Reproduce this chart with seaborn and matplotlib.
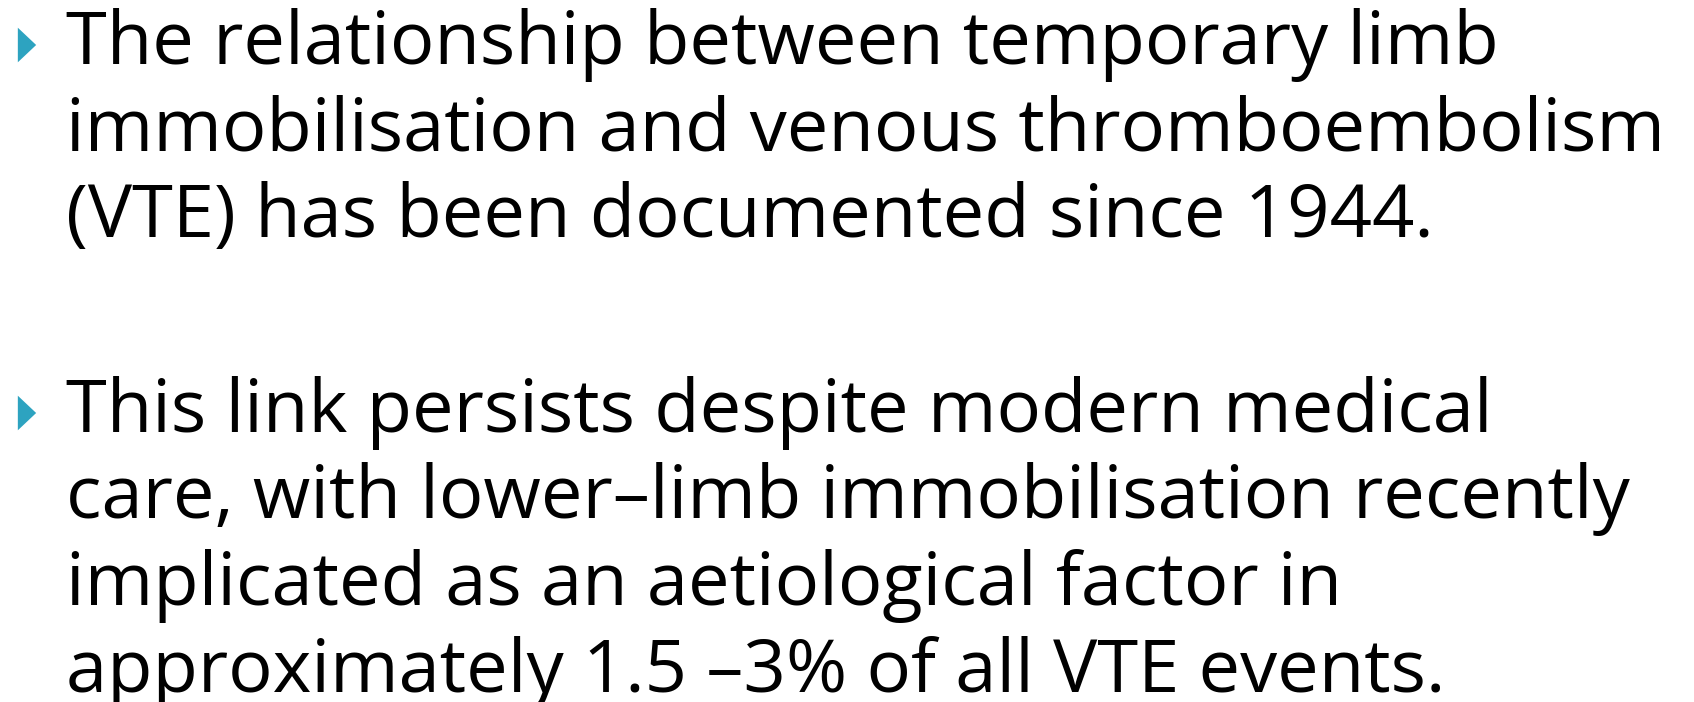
import matplotlib
matplotlib.use("Agg")
import matplotlib.pyplot as plt
import seaborn as sns
import pandas as pd

# slide text, one list per bullet, already wrapped as in the slide
bullet_1 = [
    "The relationship between temporary limb",
    "immobilisation and venous thromboembolism",
    "(VTE) has been documented since 1944.",
]
bullet_2 = [
    "This link persists despite modern medical",
    "care, with lower\u2013limb immobilisation recently",
    "implicated as an aetiological factor in",
    "approximately 1.5 \u20133% of all VTE events.",
]
bullets = [bullet_1, bullet_2]

W, H = 1694, 702
first_baselines = [64, 432]   # baseline of first line of each bullet (px from top)
line_step = 86.5
text_x = 66
bullet_color = "#2DA3C0"

sns.set_theme(style="white")
plt.rcParams["font.family"] = ["Open Sans", "DejaVu Sans"]

fig = plt.figure(figsize=(W / 100, H / 100), dpi=100)
ax = fig.add_axes([0, 0, 1, 1])
ax.set_xlim(0, W)
ax.set_ylim(H, 0)
ax.axis("off")

# bullet markers
marks = pd.DataFrame({
    "x": [27, 27],
    "y": [b - 19 for b in first_baselines],
})
sns.scatterplot(data=marks, x="x", y="y", ax=ax, marker=[(-0.53, -1), (0.53, 0), (-0.53, 1)],
                s=620, color=bullet_color, edgecolor="none", legend=False)

# text lines, font size fitted so the widest line spans the slide width
renderer = fig.canvas.get_renderer()
texts = []
for lines, base in zip(bullets, first_baselines):
    for i, line in enumerate(lines):
        t = ax.text(text_x, base + i * line_step, line, fontsize=50, va="baseline",
                    ha="left", color="black")
        texts.append(t)
widest = max(t.get_window_extent(renderer).width for t in texts)
size = 50 * 1602 / widest
for t in texts:
    t.set_fontsize(size)

fig.savefig("out.png", dpi=100)
